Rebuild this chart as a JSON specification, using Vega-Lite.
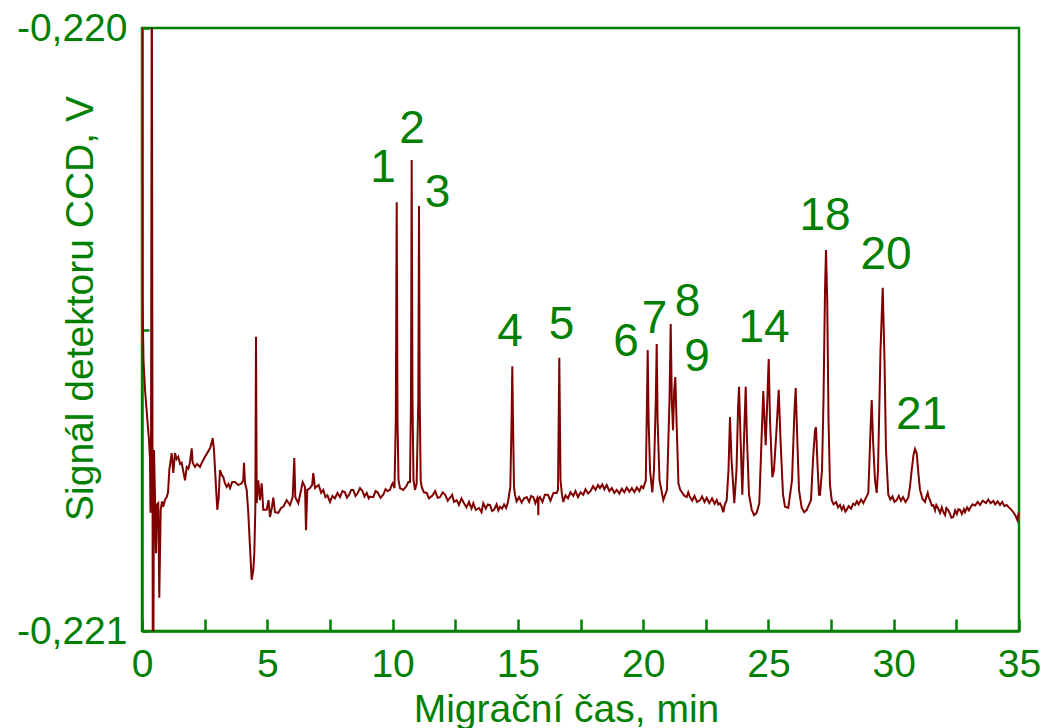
{
  "$schema": "https://vega.github.io/schema/vega-lite/v6.json",
  "width": 877,
  "height": 603,
  "autosize": {"type": "none"},
  "padding": {"left": 142, "top": 28, "right": 25, "bottom": 97},
  "background": "white",
  "config": {
    "view": {"stroke": "#008000", "strokeWidth": 2.5},
    "font": "Liberation Sans"
  },
  "layer": [
    {
      "data": {
        "values": [
          {"t": 0.000, "v": -0.219900}, {"t": 0.008, "v": -0.219950}, {"t": 0.020, "v": -0.220451}, {"t": 0.060, "v": -0.220551},
          {"t": 0.120, "v": -0.220600}, {"t": 0.200, "v": -0.220642}, {"t": 0.279, "v": -0.220683}, {"t": 0.319, "v": -0.220716},
          {"t": 0.339, "v": -0.220804}, {"t": 0.359, "v": -0.220733}, {"t": 0.389, "v": -0.219900}, {"t": 0.394, "v": -0.219900},
          {"t": 0.431, "v": -0.221100}, {"t": 0.450, "v": -0.221100}, {"t": 0.479, "v": -0.220700}, {"t": 0.519, "v": -0.220778},
          {"t": 0.559, "v": -0.220871}, {"t": 0.600, "v": -0.220790}, {"t": 0.650, "v": -0.220788}, {"t": 0.690, "v": -0.220945},
          {"t": 0.746, "v": -0.220799}, {"t": 0.800, "v": -0.220785}, {"t": 0.850, "v": -0.220794}, {"t": 0.920, "v": -0.220782},
          {"t": 0.986, "v": -0.220778}, {"t": 1.040, "v": -0.220770}, {"t": 1.090, "v": -0.220733}, {"t": 1.185, "v": -0.220705},
          {"t": 1.249, "v": -0.220738}, {"t": 1.317, "v": -0.220705}, {"t": 1.380, "v": -0.220715}, {"t": 1.449, "v": -0.220711},
          {"t": 1.520, "v": -0.220723}, {"t": 1.584, "v": -0.220721}, {"t": 1.650, "v": -0.220736}, {"t": 1.716, "v": -0.220750},
          {"t": 1.784, "v": -0.220728}, {"t": 1.850, "v": -0.220731}, {"t": 1.916, "v": -0.220720}, {"t": 1.983, "v": -0.220697},
          {"t": 2.023, "v": -0.220721}, {"t": 2.115, "v": -0.220728}, {"t": 2.200, "v": -0.220723}, {"t": 2.315, "v": -0.220728},
          {"t": 2.400, "v": -0.220720}, {"t": 2.514, "v": -0.220711}, {"t": 2.600, "v": -0.220705}, {"t": 2.714, "v": -0.220697},
          {"t": 2.780, "v": -0.220688}, {"t": 2.822, "v": -0.220680}, {"t": 2.873, "v": -0.220700}, {"t": 2.953, "v": -0.220761},
          {"t": 3.005, "v": -0.220799}, {"t": 3.061, "v": -0.220778}, {"t": 3.113, "v": -0.220733}, {"t": 3.180, "v": -0.220741},
          {"t": 3.245, "v": -0.220745}, {"t": 3.310, "v": -0.220755}, {"t": 3.380, "v": -0.220761}, {"t": 3.450, "v": -0.220756},
          {"t": 3.512, "v": -0.220763}, {"t": 3.600, "v": -0.220753}, {"t": 3.712, "v": -0.220753}, {"t": 3.843, "v": -0.220758},
          {"t": 3.979, "v": -0.220755}, {"t": 4.040, "v": -0.220750}, {"t": 4.071, "v": -0.220721}, {"t": 4.111, "v": -0.220755},
          {"t": 4.179, "v": -0.220766}, {"t": 4.242, "v": -0.220804}, {"t": 4.310, "v": -0.220861}, {"t": 4.378, "v": -0.220915},
          {"t": 4.442, "v": -0.220899}, {"t": 4.482, "v": -0.220871}, {"t": 4.522, "v": -0.220799}, {"t": 4.550, "v": -0.220512},
          {"t": 4.578, "v": -0.220788}, {"t": 4.641, "v": -0.220750}, {"t": 4.709, "v": -0.220783}, {"t": 4.777, "v": -0.220755},
          {"t": 4.841, "v": -0.220799}, {"t": 4.977, "v": -0.220799}, {"t": 5.050, "v": -0.220783}, {"t": 5.108, "v": -0.220811},
          {"t": 5.180, "v": -0.220796}, {"t": 5.240, "v": -0.220779}, {"t": 5.308, "v": -0.220803}, {"t": 5.440, "v": -0.220804},
          {"t": 5.550, "v": -0.220796}, {"t": 5.639, "v": -0.220794}, {"t": 5.775, "v": -0.220783}, {"t": 5.907, "v": -0.220791},
          {"t": 6.014, "v": -0.220778}, {"t": 6.078, "v": -0.220713}, {"t": 6.118, "v": -0.220778}, {"t": 6.238, "v": -0.220788},
          {"t": 6.330, "v": -0.220770}, {"t": 6.413, "v": -0.220753}, {"t": 6.505, "v": -0.220761}, {"t": 6.545, "v": -0.220833},
          {"t": 6.597, "v": -0.220766}, {"t": 6.705, "v": -0.220763}, {"t": 6.790, "v": -0.220758}, {"t": 6.836, "v": -0.220738},
          {"t": 6.904, "v": -0.220763}, {"t": 7.050, "v": -0.220758}, {"t": 7.150, "v": -0.220771}, {"t": 7.236, "v": -0.220766},
          {"t": 7.320, "v": -0.220778}, {"t": 7.400, "v": -0.220775}, {"t": 7.503, "v": -0.220786}, {"t": 7.600, "v": -0.220776},
          {"t": 7.700, "v": -0.220780}, {"t": 7.800, "v": -0.220771}, {"t": 7.902, "v": -0.220778}, {"t": 8.000, "v": -0.220768},
          {"t": 8.100, "v": -0.220770}, {"t": 8.180, "v": -0.220779}, {"t": 8.250, "v": -0.220775}, {"t": 8.350, "v": -0.220766},
          {"t": 8.433, "v": -0.220766}, {"t": 8.520, "v": -0.220776}, {"t": 8.600, "v": -0.220772}, {"t": 8.700, "v": -0.220763},
          {"t": 8.800, "v": -0.220768}, {"t": 8.880, "v": -0.220777}, {"t": 8.968, "v": -0.220771}, {"t": 9.050, "v": -0.220780},
          {"t": 9.100, "v": -0.220777}, {"t": 9.231, "v": -0.220778}, {"t": 9.320, "v": -0.220768}, {"t": 9.400, "v": -0.220770},
          {"t": 9.520, "v": -0.220779}, {"t": 9.630, "v": -0.220774}, {"t": 9.720, "v": -0.220765}, {"t": 9.800, "v": -0.220768},
          {"t": 9.897, "v": -0.220766}, {"t": 9.960, "v": -0.220758}, {"t": 10.005, "v": -0.220755}, {"t": 10.077, "v": -0.220763},
          {"t": 10.129, "v": -0.220650}, {"t": 10.165, "v": -0.220289}, {"t": 10.197, "v": -0.220650}, {"t": 10.237, "v": -0.220750},
          {"t": 10.297, "v": -0.220763}, {"t": 10.428, "v": -0.220766}, {"t": 10.550, "v": -0.220760}, {"t": 10.628, "v": -0.220753},
          {"t": 10.696, "v": -0.220753}, {"t": 10.735, "v": -0.220617}, {"t": 10.763, "v": -0.220219}, {"t": 10.795, "v": -0.220617},
          {"t": 10.835, "v": -0.220750}, {"t": 10.895, "v": -0.220766}, {"t": 10.960, "v": -0.220755}, {"t": 11.027, "v": -0.220617},
          {"t": 11.055, "v": -0.220295}, {"t": 11.083, "v": -0.220617}, {"t": 11.122, "v": -0.220750}, {"t": 11.162, "v": -0.220761},
          {"t": 11.250, "v": -0.220770}, {"t": 11.362, "v": -0.220771}, {"t": 11.450, "v": -0.220780}, {"t": 11.600, "v": -0.220775},
          {"t": 11.700, "v": -0.220768}, {"t": 11.800, "v": -0.220779}, {"t": 11.893, "v": -0.220778}, {"t": 12.000, "v": -0.220770},
          {"t": 12.100, "v": -0.220774}, {"t": 12.200, "v": -0.220784}, {"t": 12.292, "v": -0.220779}, {"t": 12.380, "v": -0.220774},
          {"t": 12.450, "v": -0.220786}, {"t": 12.559, "v": -0.220783}, {"t": 12.650, "v": -0.220791}, {"t": 12.750, "v": -0.220780},
          {"t": 12.850, "v": -0.220788}, {"t": 12.950, "v": -0.220795}, {"t": 13.050, "v": -0.220786}, {"t": 13.150, "v": -0.220797},
          {"t": 13.222, "v": -0.220788}, {"t": 13.320, "v": -0.220799}, {"t": 13.450, "v": -0.220796}, {"t": 13.550, "v": -0.220803},
          {"t": 13.621, "v": -0.220788}, {"t": 13.720, "v": -0.220797}, {"t": 13.800, "v": -0.220790}, {"t": 13.888, "v": -0.220791},
          {"t": 13.970, "v": -0.220801}, {"t": 14.050, "v": -0.220799}, {"t": 14.150, "v": -0.220790}, {"t": 14.220, "v": -0.220800},
          {"t": 14.288, "v": -0.220794}, {"t": 14.370, "v": -0.220797}, {"t": 14.450, "v": -0.220790}, {"t": 14.530, "v": -0.220796},
          {"t": 14.607, "v": -0.220786}, {"t": 14.699, "v": -0.220761}, {"t": 14.750, "v": -0.220650}, {"t": 14.778, "v": -0.220561},
          {"t": 14.806, "v": -0.220650}, {"t": 14.846, "v": -0.220761}, {"t": 14.886, "v": -0.220774}, {"t": 14.950, "v": -0.220785},
          {"t": 15.050, "v": -0.220778}, {"t": 15.150, "v": -0.220787}, {"t": 15.250, "v": -0.220780}, {"t": 15.353, "v": -0.220778},
          {"t": 15.450, "v": -0.220786}, {"t": 15.530, "v": -0.220776}, {"t": 15.617, "v": -0.220778}, {"t": 15.700, "v": -0.220788},
          {"t": 15.780, "v": -0.220779}, {"t": 15.805, "v": -0.220783}, {"t": 15.816, "v": -0.220808}, {"t": 15.828, "v": -0.220781},
          {"t": 15.884, "v": -0.220778}, {"t": 15.980, "v": -0.220786}, {"t": 16.080, "v": -0.220774}, {"t": 16.200, "v": -0.220774},
          {"t": 16.300, "v": -0.220784}, {"t": 16.420, "v": -0.220771}, {"t": 16.550, "v": -0.220771}, {"t": 16.602, "v": -0.220766},
          {"t": 16.654, "v": -0.220547}, {"t": 16.702, "v": -0.220750}, {"t": 16.760, "v": -0.220774}, {"t": 16.814, "v": -0.220786},
          {"t": 16.900, "v": -0.220775}, {"t": 17.000, "v": -0.220780}, {"t": 17.100, "v": -0.220770}, {"t": 17.213, "v": -0.220776},
          {"t": 17.300, "v": -0.220768}, {"t": 17.400, "v": -0.220778}, {"t": 17.500, "v": -0.220770}, {"t": 17.612, "v": -0.220774},
          {"t": 17.700, "v": -0.220765}, {"t": 17.800, "v": -0.220772}, {"t": 17.900, "v": -0.220768}, {"t": 18.000, "v": -0.220760},
          {"t": 18.100, "v": -0.220766}, {"t": 18.200, "v": -0.220758}, {"t": 18.278, "v": -0.220763}, {"t": 18.370, "v": -0.220757},
          {"t": 18.450, "v": -0.220765}, {"t": 18.546, "v": -0.220758}, {"t": 18.650, "v": -0.220768}, {"t": 18.750, "v": -0.220763},
          {"t": 18.850, "v": -0.220771}, {"t": 18.945, "v": -0.220766}, {"t": 19.050, "v": -0.220772}, {"t": 19.150, "v": -0.220764},
          {"t": 19.250, "v": -0.220770}, {"t": 19.350, "v": -0.220762}, {"t": 19.450, "v": -0.220769}, {"t": 19.550, "v": -0.220763},
          {"t": 19.650, "v": -0.220770}, {"t": 19.750, "v": -0.220762}, {"t": 19.850, "v": -0.220768}, {"t": 19.930, "v": -0.220760},
          {"t": 20.007, "v": -0.220763}, {"t": 20.106, "v": -0.220750}, {"t": 20.154, "v": -0.220617}, {"t": 20.182, "v": -0.220534},
          {"t": 20.218, "v": -0.220650}, {"t": 20.274, "v": -0.220733}, {"t": 20.366, "v": -0.220770}, {"t": 20.433, "v": -0.220733},
          {"t": 20.505, "v": -0.220617}, {"t": 20.541, "v": -0.220524}, {"t": 20.577, "v": -0.220650}, {"t": 20.653, "v": -0.220750},
          {"t": 20.805, "v": -0.220783}, {"t": 20.952, "v": -0.220766}, {"t": 21.052, "v": -0.220617}, {"t": 21.100, "v": -0.220491},
          {"t": 21.144, "v": -0.220617}, {"t": 21.192, "v": -0.220667}, {"t": 21.240, "v": -0.220600}, {"t": 21.284, "v": -0.220579},
          {"t": 21.332, "v": -0.220650}, {"t": 21.408, "v": -0.220755}, {"t": 21.480, "v": -0.220766}, {"t": 21.551, "v": -0.220770},
          {"t": 21.650, "v": -0.220776}, {"t": 21.739, "v": -0.220778}, {"t": 21.800, "v": -0.220770}, {"t": 21.870, "v": -0.220778},
          {"t": 21.960, "v": -0.220784}, {"t": 22.050, "v": -0.220776}, {"t": 22.150, "v": -0.220786}, {"t": 22.269, "v": -0.220783},
          {"t": 22.350, "v": -0.220777}, {"t": 22.450, "v": -0.220786}, {"t": 22.537, "v": -0.220779}, {"t": 22.640, "v": -0.220788},
          {"t": 22.750, "v": -0.220780}, {"t": 22.850, "v": -0.220789}, {"t": 22.936, "v": -0.220783}, {"t": 23.000, "v": -0.220790},
          {"t": 23.068, "v": -0.220788}, {"t": 23.135, "v": -0.220794}, {"t": 23.199, "v": -0.220803}, {"t": 23.260, "v": -0.220790},
          {"t": 23.335, "v": -0.220783}, {"t": 23.407, "v": -0.220733}, {"t": 23.466, "v": -0.220645}, {"t": 23.527, "v": -0.220716},
          {"t": 23.638, "v": -0.220788}, {"t": 23.726, "v": -0.220733}, {"t": 23.786, "v": -0.220633}, {"t": 23.826, "v": -0.220595},
          {"t": 23.878, "v": -0.220667}, {"t": 23.958, "v": -0.220774}, {"t": 24.037, "v": -0.220667}, {"t": 24.093, "v": -0.220595},
          {"t": 24.145, "v": -0.220683}, {"t": 24.225, "v": -0.220774}, {"t": 24.333, "v": -0.220799}, {"t": 24.430, "v": -0.220808},
          {"t": 24.532, "v": -0.220804}, {"t": 24.636, "v": -0.220788}, {"t": 24.724, "v": -0.220683}, {"t": 24.795, "v": -0.220602},
          {"t": 24.843, "v": -0.220650}, {"t": 24.891, "v": -0.220692}, {"t": 24.955, "v": -0.220617}, {"t": 25.011, "v": -0.220549},
          {"t": 25.063, "v": -0.220650}, {"t": 25.155, "v": -0.220745}, {"t": 25.222, "v": -0.220733}, {"t": 25.322, "v": -0.220667},
          {"t": 25.410, "v": -0.220600}, {"t": 25.482, "v": -0.220683}, {"t": 25.582, "v": -0.220774}, {"t": 25.662, "v": -0.220794},
          {"t": 25.793, "v": -0.220796}, {"t": 25.941, "v": -0.220750}, {"t": 26.041, "v": -0.220633}, {"t": 26.089, "v": -0.220597},
          {"t": 26.140, "v": -0.220667}, {"t": 26.220, "v": -0.220766}, {"t": 26.328, "v": -0.220796}, {"t": 26.430, "v": -0.220803},
          {"t": 26.528, "v": -0.220799}, {"t": 26.699, "v": -0.220783}, {"t": 26.779, "v": -0.220716}, {"t": 26.859, "v": -0.220667},
          {"t": 26.899, "v": -0.220662}, {"t": 26.959, "v": -0.220725}, {"t": 27.019, "v": -0.220774}, {"t": 27.058, "v": -0.220774},
          {"t": 27.138, "v": -0.220733}, {"t": 27.198, "v": -0.220617}, {"t": 27.258, "v": -0.220435}, {"t": 27.298, "v": -0.220368},
          {"t": 27.346, "v": -0.220451}, {"t": 27.398, "v": -0.220650}, {"t": 27.457, "v": -0.220758}, {"t": 27.525, "v": -0.220783},
          {"t": 27.600, "v": -0.220790}, {"t": 27.700, "v": -0.220786}, {"t": 27.780, "v": -0.220795}, {"t": 27.857, "v": -0.220791},
          {"t": 27.930, "v": -0.220799}, {"t": 28.000, "v": -0.220793}, {"t": 28.070, "v": -0.220802}, {"t": 28.124, "v": -0.220799},
          {"t": 28.200, "v": -0.220793}, {"t": 28.300, "v": -0.220797}, {"t": 28.380, "v": -0.220789}, {"t": 28.455, "v": -0.220791},
          {"t": 28.530, "v": -0.220785}, {"t": 28.600, "v": -0.220790}, {"t": 28.700, "v": -0.220782}, {"t": 28.787, "v": -0.220788},
          {"t": 28.880, "v": -0.220780}, {"t": 28.986, "v": -0.220771}, {"t": 29.074, "v": -0.220667}, {"t": 29.122, "v": -0.220617},
          {"t": 29.174, "v": -0.220683}, {"t": 29.253, "v": -0.220750}, {"t": 29.321, "v": -0.220771}, {"t": 29.373, "v": -0.220733},
          {"t": 29.473, "v": -0.220534}, {"t": 29.561, "v": -0.220431}, {"t": 29.633, "v": -0.220551}, {"t": 29.692, "v": -0.220700},
          {"t": 29.784, "v": -0.220774}, {"t": 29.870, "v": -0.220782}, {"t": 29.950, "v": -0.220777}, {"t": 30.030, "v": -0.220786},
          {"t": 30.119, "v": -0.220783}, {"t": 30.200, "v": -0.220776}, {"t": 30.290, "v": -0.220784}, {"t": 30.371, "v": -0.220778},
          {"t": 30.470, "v": -0.220786}, {"t": 30.582, "v": -0.220779}, {"t": 30.650, "v": -0.220760}, {"t": 30.718, "v": -0.220733},
          {"t": 30.790, "v": -0.220708}, {"t": 30.850, "v": -0.220698}, {"t": 30.918, "v": -0.220705}, {"t": 30.990, "v": -0.220741},
          {"t": 31.049, "v": -0.220766}, {"t": 31.150, "v": -0.220781}, {"t": 31.249, "v": -0.220786}, {"t": 31.300, "v": -0.220778},
          {"t": 31.357, "v": -0.220771}, {"t": 31.400, "v": -0.220779}, {"t": 31.448, "v": -0.220783}, {"t": 31.520, "v": -0.220792},
          {"t": 31.580, "v": -0.220791}, {"t": 31.650, "v": -0.220800}, {"t": 31.700, "v": -0.220791}, {"t": 31.768, "v": -0.220796},
          {"t": 31.850, "v": -0.220804}, {"t": 31.920, "v": -0.220795}, {"t": 31.979, "v": -0.220803}, {"t": 32.050, "v": -0.220808},
          {"t": 32.100, "v": -0.220796}, {"t": 32.167, "v": -0.220799}, {"t": 32.250, "v": -0.220806}, {"t": 32.300, "v": -0.220812},
          {"t": 32.378, "v": -0.220811}, {"t": 32.450, "v": -0.220800}, {"t": 32.520, "v": -0.220806}, {"t": 32.580, "v": -0.220798},
          {"t": 32.645, "v": -0.220799}, {"t": 32.720, "v": -0.220806}, {"t": 32.800, "v": -0.220798}, {"t": 32.845, "v": -0.220803},
          {"t": 32.930, "v": -0.220795}, {"t": 33.000, "v": -0.220800}, {"t": 33.045, "v": -0.220796}, {"t": 33.150, "v": -0.220790},
          {"t": 33.250, "v": -0.220792}, {"t": 33.350, "v": -0.220786}, {"t": 33.444, "v": -0.220791}, {"t": 33.550, "v": -0.220784},
          {"t": 33.683, "v": -0.220788}, {"t": 33.770, "v": -0.220782}, {"t": 33.870, "v": -0.220788}, {"t": 33.975, "v": -0.220784},
          {"t": 34.050, "v": -0.220790}, {"t": 34.150, "v": -0.220785}, {"t": 34.242, "v": -0.220791}, {"t": 34.330, "v": -0.220786},
          {"t": 34.420, "v": -0.220793}, {"t": 34.509, "v": -0.220791}, {"t": 34.600, "v": -0.220795}, {"t": 34.700, "v": -0.220799},
          {"t": 34.773, "v": -0.220803}, {"t": 34.850, "v": -0.220808}, {"t": 34.933, "v": -0.220816}, {"t": 34.970, "v": -0.220808},
          {"t": 35.000, "v": -0.220803}
        ]
      },
      "mark": {"type": "line", "color": "#800000", "strokeWidth": 2, "clip": true, "interpolate": "linear"},
      "encoding": {
        "x": {
          "field": "t",
          "type": "quantitative",
          "scale": {"domain": [0, 35], "nice": false, "zero": false},
          "axis": {
            "title": "Migrační čas, min",
            "values": [0, 2.5, 5, 7.5, 10, 12.5, 15, 17.5, 20, 22.5, 25, 27.5, 30, 32.5, 35],
            "labelExpr": "datum.value % 5 === 0 ? datum.label : ''",
            "grid": false,
            "labelFont": "Liberation Sans",
            "labelFontSize": 39,
            "labelColor": "#008000",
            "labelPadding": 26,
            "labelFlush": false,
            "labelOverlap": false,
            "ticks": true,
            "tickSize": -12,
            "tickColor": "#008000",
            "tickWidth": 2.5,
            "domainColor": "#008000",
            "domainWidth": 2.5,
            "titleFont": "Liberation Sans",
            "titleFontSize": 39,
            "titleFontWeight": "normal",
            "titleColor": "#008000",
            "titleX": 424,
            "titleY": 59,
            "titleAlign": "center",
            "titleBaseline": "top",
            "encode": {"ticks": {"update": {"y2": {"signal": "datum.value % 5 === 0 ? -12 : -7"}}}}
          }
        },
        "y": {
          "field": "v",
          "type": "quantitative",
          "scale": {"domain": [-0.221, -0.22], "nice": false, "zero": false},
          "axis": {
            "title": "Signál detektoru CCD, V",
            "values": [-0.221, -0.2205, -0.22],
            "labelExpr": "abs(datum.value + 0.2205) < 0.0001 ? '' : '-' + replace(format(abs(datum.value), '.3f'), '.', ',')",
            "grid": false,
            "labelFont": "Liberation Sans",
            "labelFontSize": 39,
            "labelColor": "#008000",
            "labelPadding": 22,
            "labelFlush": false,
            "labelOverlap": false,
            "ticks": true,
            "tickSize": -7,
            "tickColor": "#008000",
            "tickWidth": 2.5,
            "domainColor": "#008000",
            "domainWidth": 2.5,
            "titleFont": "Liberation Sans",
            "titleFontSize": 39,
            "titleFontWeight": "normal",
            "titleColor": "#008000",
            "titleAngle": -90,
            "titleX": -42,
            "titleY": 280,
            "titleAlign": "center",
            "titleBaseline": "bottom"
          }
        }
      }
    },
    {
      "data": {
        "values": [
          {"t": 9.618, "v": -0.220232, "label": "1"},
          {"t": 10.775, "v": -0.220168, "label": "2"},
          {"t": 11.793, "v": -0.220274, "label": "3"},
          {"t": 14.687, "v": -0.220504, "label": "4"},
          {"t": 16.742, "v": -0.220493, "label": "5"},
          {"t": 19.316, "v": -0.220520, "label": "6"},
          {"t": 20.454, "v": -0.220482, "label": "7"},
          {"t": 21.771, "v": -0.220455, "label": "8"},
          {"t": 22.150, "v": -0.220546, "label": "9"},
          {"t": 24.823, "v": -0.220497, "label": "14"},
          {"t": 27.258, "v": -0.220311, "label": "18"},
          {"t": 29.692, "v": -0.220376, "label": "20"},
          {"t": 31.109, "v": -0.220641, "label": "21"}
        ]
      },
      "mark": {"type": "text", "color": "#008000", "font": "Liberation Sans", "fontSize": 46, "align": "center", "baseline": "middle"},
      "encoding": {
        "x": {"field": "t", "type": "quantitative"},
        "y": {"field": "v", "type": "quantitative"},
        "text": {"field": "label"}
      }
    }
  ]
}
